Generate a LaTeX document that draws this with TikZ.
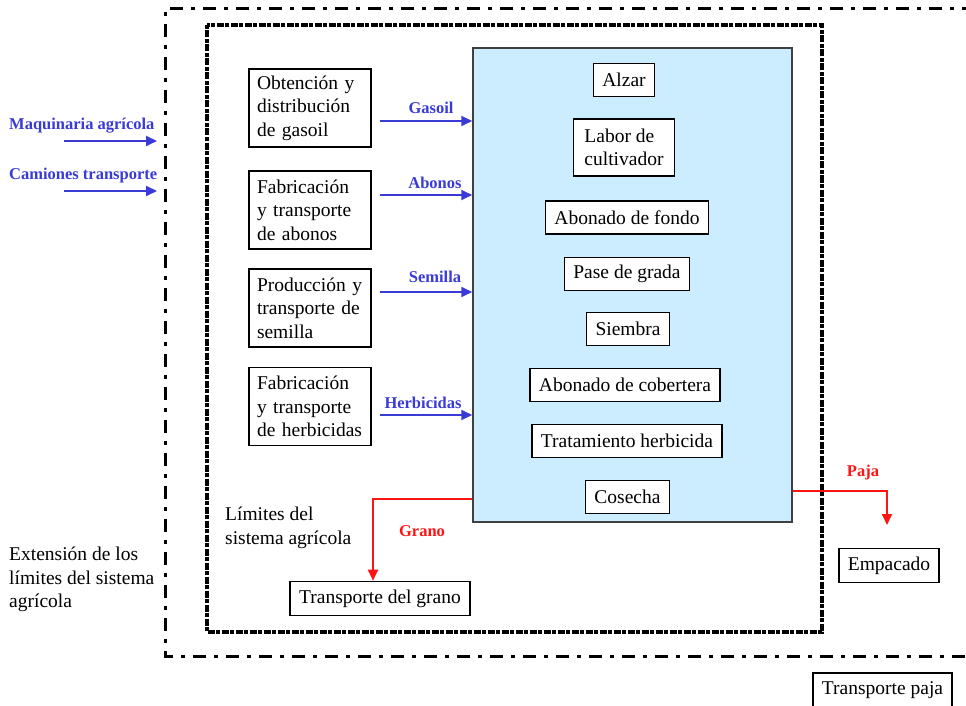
\documentclass[tikz,border=0pt]{standalone}
\usepackage{fontspec}
\setmainfont{Liberation Serif}
\usetikzlibrary{arrows.meta}
\definecolor{flowblue}{RGB}{58,58,214}
\definecolor{boxblue}{RGB}{204,236,255}
\definecolor{flowred}{RGB}{255,20,20}
\begin{document}
\begin{tikzpicture}[x=1pt,y=-1pt,
  every node/.style={font=\fontsize{19.5}{23.5}\selectfont},
  srcbox/.style={draw, line width=1.6pt, align=left, text width=106pt, inner xsep=8pt, inner ysep=4pt, minimum height=78pt},
  stepbox/.style={draw, line width=1.6pt, fill=white, inner xsep=9pt, minimum height=33pt},
  plainbox/.style={draw, line width=1.6pt, fill=white, inner xsep=9pt, minimum height=34pt},
  bluelbl/.style={text=flowblue, font=\fontsize{16.5}{18}\selectfont\bfseries, inner sep=1pt},
  redlbl/.style={text=flowred, font=\fontsize{16.5}{18}\selectfont\bfseries, inner sep=1pt},
  bluearrow/.style={draw=flowblue, line width=1.8pt, -{Triangle[length=11pt,width=10pt]}},
  redarrow/.style={draw=flowred, line width=1.8pt, -{Triangle[length=11pt,width=10pt]}},
  txt/.style={align=left, inner sep=0pt}
]
\useasboundingbox (0,0) rectangle (966,706);

% outer dash-dot boundary (right side out of view)
\draw[line width=3pt, dash pattern=on 13pt off 8pt on 4pt off 8pt]
  (975,9) -- (165,9) -- (165,656) -- (975,656);

% inner dotted boundary
\draw[line width=4pt, dash pattern=on 4pt off 1.5pt on 7pt off 1.5pt]
  (207,25) rectangle (822,632);

% main process box
\node[draw=black!75, line width=1.5pt, fill=boxblue, minimum width=319pt, minimum height=474pt, inner sep=0pt] (main) at (632.5,285) {};

% steps inside
\node[stepbox] (alzar) at (624,80) {Alzar};
\node[stepbox, align=left, inner xsep=11pt, minimum height=57pt] (labor) at (624,147.5) {Labor de\\cultivador};
\node[stepbox] (fondo) at (627,217.5) {Abonado de fondo};
\node[stepbox] (grada) at (627,274) {Pase de grada};
\node[stepbox] (siembra) at (628,329) {Siembra};
\node[stepbox] (cobertera) at (625,385) {Abonado de cobertera};
\node[stepbox] (herb) at (627,441) {Tratamiento herbicida};
\node[stepbox] (cosecha) at (627.5,497) {Cosecha};

% source boxes
\node[srcbox] (gasoilsrc) at (310,108) {\makebox[100pt][s]{Obtención y}\\distribución\\de gasoil};
\node[srcbox] (abonosrc) at (310,210) {Fabricación\\y transporte\\de abonos};
\node[srcbox] (semillasrc) at (310,308) {Producción y\\transporte de\\semilla};
\node[srcbox] (herbsrc) at (310,406.5) {Fabricación\\y transporte\\de herbicidas};

% input arrows
\coordinate (g0) at (380,121);
\coordinate (a0) at (380,195);
\coordinate (s0) at (380,292);
\coordinate (h0) at (380,415);
\draw[bluearrow] (g0) -- (main.west |- g0);
\draw[bluearrow] (a0) -- (main.west |- a0);
\draw[bluearrow] (s0) -- (main.west |- s0);
\draw[bluearrow] (h0) -- (main.west |- h0);
\node[bluelbl] (lg) at (431,108) {Gasoil};
\node[bluelbl] (la) at (435,183) {Abonos};
\node[bluelbl] (ls) at (435,277) {Semilla};
\node[bluelbl] (lh) at (423,403) {Herbicidas};

% external inputs
\coordinate (m0) at (64,141);
\coordinate (m1) at (157,141);
\coordinate (c0) at (64,191);
\coordinate (c1) at (157,191);
\draw[bluearrow] (m0) -- (m1);
\draw[bluearrow] (c0) -- (c1);
\node[bluelbl, anchor=west] (lm) at (8,125.5) {Maquinaria agrícola};
\node[bluelbl, anchor=west] (lc) at (8,175.5) {Camiones transporte};

% outputs
\node[plainbox] (tgrano) at (380,598.5) {Transporte del grano};
\node[plainbox] (empacado) at (889,565.5) {Empacado};
\node[plainbox] (tpaja) at (882.5,690) {Transporte paja};

\coordinate (gr0) at (main.west |- 0,499);
\coordinate (gr1) at (373,499);
\draw[redarrow] (gr0) -- (gr1) -- (gr1 |- tgrano.north);
\node[redlbl] (lgr) at (422,531) {Grano};

\coordinate (pj0) at (main.east |- 0,491);
\coordinate (pj1) at (887,491);
\coordinate (pj2) at (887,525);
\draw[redarrow] (pj0) -- (pj1) -- (pj2);
\node[redlbl] (lpj) at (863,473) {Paja};

% boundary captions
\node[txt, anchor=north west] (lim) at (225,507) {Límites del\\sistema agrícola};
\node[txt, anchor=north west] (ext) at (9,547) {Extensión de los\\límites del sistema\\agrícola};
\end{tikzpicture}
\end{document}
